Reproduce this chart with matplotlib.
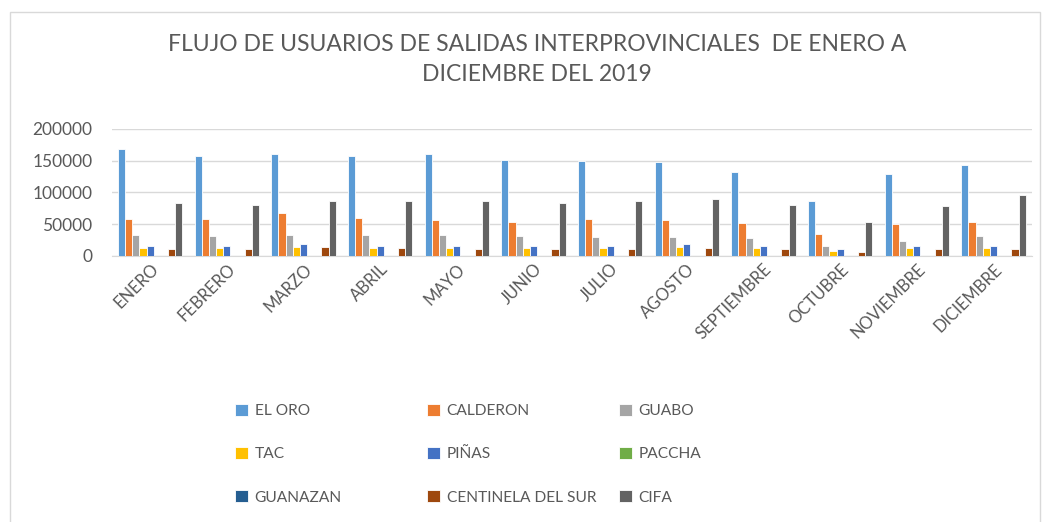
import numpy as np
import matplotlib.pyplot as plt
from matplotlib.patches import Rectangle

plt.rcParams['font.family'] = ['Lato', 'DejaVu Sans']

meses = ['ENERO', 'FEBRERO', 'MARZO', 'ABRIL', 'MAYO', 'JUNIO', 'JULIO',
         'AGOSTO', 'SEPTIEMBRE', 'OCTUBRE', 'NOVIEMBRE', 'DICIEMBRE']

el_oro = [168400, 156800, 160500, 156800, 160500, 151000, 149500, 147400, 132100, 86800, 128900, 143700]
calderon = [57900, 57900, 67400, 60000, 56300, 54200, 57900, 56300, 52100, 35300, 50000, 54200]
guabo = [33200, 31600, 33200, 33200, 33200, 31600, 29500, 29500, 27900, 15800, 23700, 31600]
tac = [12600, 12600, 14200, 12600, 12600, 12600, 12600, 14200, 12600, 8400, 12600, 12600]
pinas = [15800, 15800, 18400, 15800, 15800, 15800, 15800, 18400, 15800, 10500, 15800, 15800]
paccha = [0] * 12
guanazan = [0] * 12
centinela = [10500, 10500, 14200, 12600, 10500, 10500, 10500, 12600, 10500, 6300, 10500, 10500]
cifa = [83200, 80500, 86800, 86800, 86800, 83200, 86800, 90500, 80500, 54200, 78900, 96300]

series = [
    ('EL ORO', el_oro, '#5B9BD5'),
    ('CALDERON', calderon, '#ED7D31'),
    ('GUABO', guabo, '#A5A5A5'),
    ('TAC', tac, '#FFC000'),
    ('PIÑAS', pinas, '#4472C4'),
    ('PACCHA', paccha, '#70AD47'),
    ('GUANAZAN', guanazan, '#255E91'),
    ('CENTINELA DEL SUR', centinela, '#9E480E'),
    ('CIFA', cifa, '#636363'),
]

gris = '#595959'

fig = plt.figure(figsize=(10.55, 5.22), dpi=100)
ax = fig.add_axes([0.106, 0.5096, 0.872, 0.2433])

x = np.arange(len(meses))
n = len(series)
w = 0.84 / n
handles = []
for i, (nombre, vals, color) in enumerate(series):
    off = (i - (n - 1) / 2) * w
    b = ax.bar(x + off, vals, width=w, color=color, edgecolor='white',
               linewidth=0.6, label=nombre, zorder=3)
    handles.append(b)

ax.set_xlim(-0.5, len(meses) - 0.5)
ax.set_ylim(0, 200000)
ax.set_yticks([0, 50000, 100000, 150000, 200000])
ax.set_yticklabels(['0', '50000', '100000', '150000', '200000'])
ax.yaxis.grid(True, color='#d9d9d9', linewidth=1, zorder=0)
ax.set_axisbelow(True)
for s in ['top', 'right', 'left']:
    ax.spines[s].set_visible(False)
ax.spines['bottom'].set_color('#d9d9d9')
ax.tick_params(axis='both', length=0, colors=gris, labelsize=12)
ax.tick_params(axis='y', labelsize=12.5, pad=14)
ax.set_xticks(x)
ax.set_xticklabels(meses, rotation=45, ha='right', rotation_mode='anchor')

fig.suptitle('FLUJO DE USUARIOS DE SALIDAS INTERPROVINCIALES  DE ENERO A\nDICIEMBRE DEL 2019',
             x=0.509, y=0.935, fontsize=16.5, color=gris, linespacing=1.55)

# leyenda en tres columnas de ancho fijo
cols_x = [0.217, 0.399, 0.581]
for c in range(3):
    hs = [handles[r * 3 + c] for r in range(3)]
    ls = [series[r * 3 + c][0] for r in range(3)]
    leg = fig.legend(hs, ls, loc='upper left', bbox_to_anchor=(cols_x[c], 0.238),
                     frameon=False, fontsize=11.2, labelspacing=1.85,
                     handlelength=0.8, handleheight=0.8, handletextpad=0.45,
                     borderaxespad=0)
    for t in leg.get_texts():
        t.set_color(gris)

fig.patches.append(Rectangle((10 / 1055, -0.02), 1030 / 1055, 1 - 12 / 522 + 0.02,
                             transform=fig.transFigure, fill=False,
                             edgecolor='#d9d9d9', linewidth=1))

fig.savefig('out.png', dpi=100)
